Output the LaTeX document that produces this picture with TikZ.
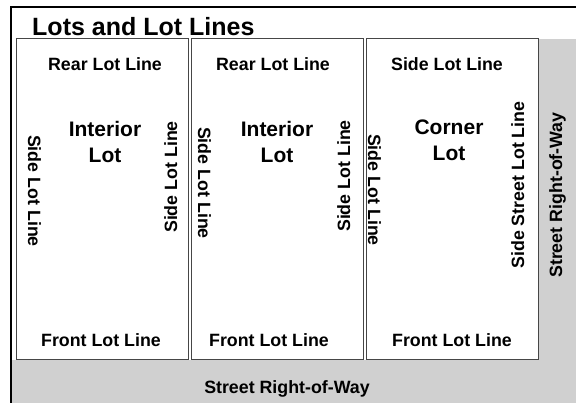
\documentclass[tikz,border=0pt]{standalone}
\usepackage{fontspec}
\setmainfont{Liberation Sans}
\usetikzlibrary{
  positioning,
}
\definecolor{street_gray}{RGB}{208,208,208}
\definecolor{line_gray}{RGB}{70,70,70}
\tikzset{
  titlelabel/.style={font=\bfseries\fontsize{25}{30}\selectfont, inner sep=0pt, anchor=base west},
  linelabel/.style={font=\bfseries\fontsize{17.8}{20}\selectfont, inner sep=0pt, anchor=base},
  lotname/.style={font=\bfseries\fontsize{21}{26}\selectfont, align=center, inner sep=0pt, anchor=north},
}

\begin{document}
\begin{tikzpicture}[x=1pt,y=-1pt]
    \useasboundingbox (0,0) rectangle (576,403);
    \clip (0,0) rectangle (576,403);

    % street right-of-way, bottom and side
    \fill[street_gray] (12,360) rectangle (580,410);
    \fill[street_gray] (538,39) rectangle (580,410);

    % outer frame
    \draw[line width=2pt] (11,410) -- (11,7) -- (580,7);

    % draw the three lots
    \foreach \x in {16,191,366} {
      \draw[line_gray, line width=1pt] (\x,39) rectangle +(172,321);
    }

    % title
    \node[titlelabel] (title) at (32,36) {Lots and Lot Lines};

    % rear and front lot lines
    \node[linelabel] (rear1) at (105,71) {Rear Lot Line};
    \node[linelabel] (rear2) at (273,71) {Rear Lot Line};
    \node[linelabel] (sidetop3) at (447,71) {Side Lot Line};
    \node[linelabel] (front1) at (101,347) {Front Lot Line};
    \node[linelabel] (front2) at (269,347) {Front Lot Line};
    \node[linelabel] (front3) at (452,347) {Front Lot Line};

    % lot names
    \node[lotname] (name1) at (105,121) {Interior\\Lot};
    \node[lotname] (name2) at (277,121) {Interior\\Lot};
    \node[lotname] (name3) at (449,120) {Corner\\Lot};

    % side lot lines
    \node[linelabel, rotate=-90] (sideL1) at (28,191) {Side Lot Line};
    \node[linelabel, rotate=90] (sideR1) at (177,177) {Side Lot Line};
    \node[linelabel, rotate=-90] (sideL2) at (198,183) {Side Lot Line};
    \node[linelabel, rotate=90] (sideR2) at (350,176) {Side Lot Line};
    \node[linelabel, rotate=-90] (sideL3) at (368,190) {Side Lot Line};
    \node[linelabel, rotate=90] (sideR3) at (524,185) {Side Street Lot Line};

    % street labels
    \node[linelabel, rotate=90] (streetside) at (562,195) {Street Right-of-Way};
    \node[linelabel] (streetfront) at (287,394) {Street Right-of-Way};
\end{tikzpicture}
\end{document}
